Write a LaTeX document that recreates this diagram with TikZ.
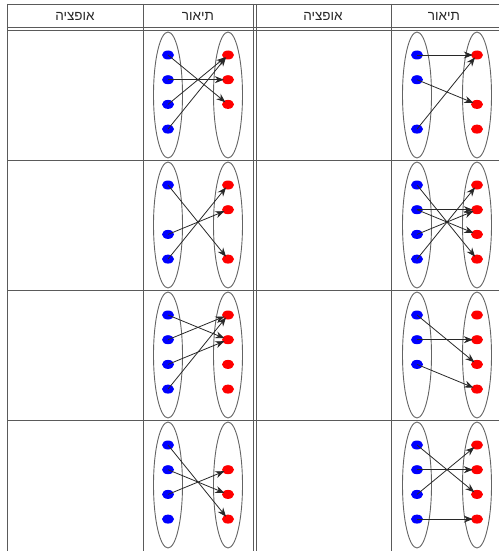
\documentclass[tikz,border=0pt]{standalone}
\usepackage{fontspec}
\setmainfont{Liberation Sans}
\newfontfamily\hebfont[Script=Hebrew]{Liberation Sans}
\TeXXeTstate=1
\usetikzlibrary{shapes.geometric,arrows.meta}
\definecolor{tablegray}{RGB}{90,90,90}
\definecolor{setgray}{RGB}{100,100,100}
\definecolor{arrgray}{RGB}{40,40,40}
\tikzset{
  tline/.style={draw=tablegray, line width=.9pt},
  setline/.style={draw=setgray, line width=.9pt},
  bdot/.style={ellipse, fill=blue, minimum width=12pt, minimum height=9pt, inner sep=0pt},
  rdot/.style={ellipse, fill=red, minimum width=12pt, minimum height=9pt, inner sep=0pt},
  arr/.style={draw=arrgray, line width=.8pt, -{Stealth[length=9pt,width=7pt]}, shorten >=-2pt},
  head/.style={font=\hebfont\fontsize{13.5}{16}\selectfont, text=black!85}
}
\begin{document}
\begin{tikzpicture}[x=1pt, y=-1pt]
\useasboundingbox (0,0) rectangle (499,551);
% table
\draw[tline] (7,4) -- (499,4);
\draw[tline] (7,27) -- (499,27); \draw[tline] (7,30) -- (499,30);
\foreach \y in {160,290,420}{\draw[tline] (7,\y) -- (499,\y);}
\foreach \x in {7,143,253,256,391}{\draw[tline] (\x,4) -- (\x,551);}
% header
\node[head] (opt1) at (75,16) {\beginR אופציה\endR};
\node[head] (desc1) at (198,16) {\beginR תיאור\endR};
\node[head] (opt2) at (323,16) {\beginR אופציה\endR};
\node[head] (desc2) at (444,16) {\beginR תיאור\endR};
% cells: name/x of left set/top of row/blue dots/red dots/arrows
\foreach \c/\lx/\ty/\blues/\reds/\arrs in {
  1a/168/30/{1,2,3,4}/{1,2,3}/{1/3,2/2,3/1,4/1},
  1b/417/30/{1,2,4}/{1,3,4}/{1/1,2/3,4/1},
  2a/168/160/{1,3,4}/{1,2,4}/{1/4,3/2,4/1},
  2b/417/160/{1,2,3,4}/{1,2,3,4}/{1/4,2/2,2/3,3/2,4/1},
  3a/168/290/{1,2,3,4}/{1,2,3,4}/{1/2,2/1,3/2,4/1},
  3b/417/290/{1,2,3}/{1,2,3,4}/{1/3,2/2,3/4},
  4a/168/420/{1,2,3,4}/{2,3,4}/{1/4,2/3,3/2},
  4b/417/420/{1,2,3,4}/{1,2,3,4}/{1/3,2/2,3/1,4/4}}{
  \draw[setline] (\lx,\ty+65) ellipse (14.5pt and 63pt);
  \draw[setline] (\lx+60,\ty+65) ellipse (14.5pt and 63pt);
  \foreach \i in \blues {\node[bdot] (b\c-\i) at (\lx,\ty+25+24.7*\i-24.7) {};}
  \foreach \i in \reds {\node[rdot] (r\c-\i) at (\lx+60,\ty+25+24.7*\i-24.7) {};}
  \foreach \i/\j in \arrs {\draw[arr] (b\c-\i.center) -- (r\c-\j);}
}
\end{tikzpicture}
\end{document}
